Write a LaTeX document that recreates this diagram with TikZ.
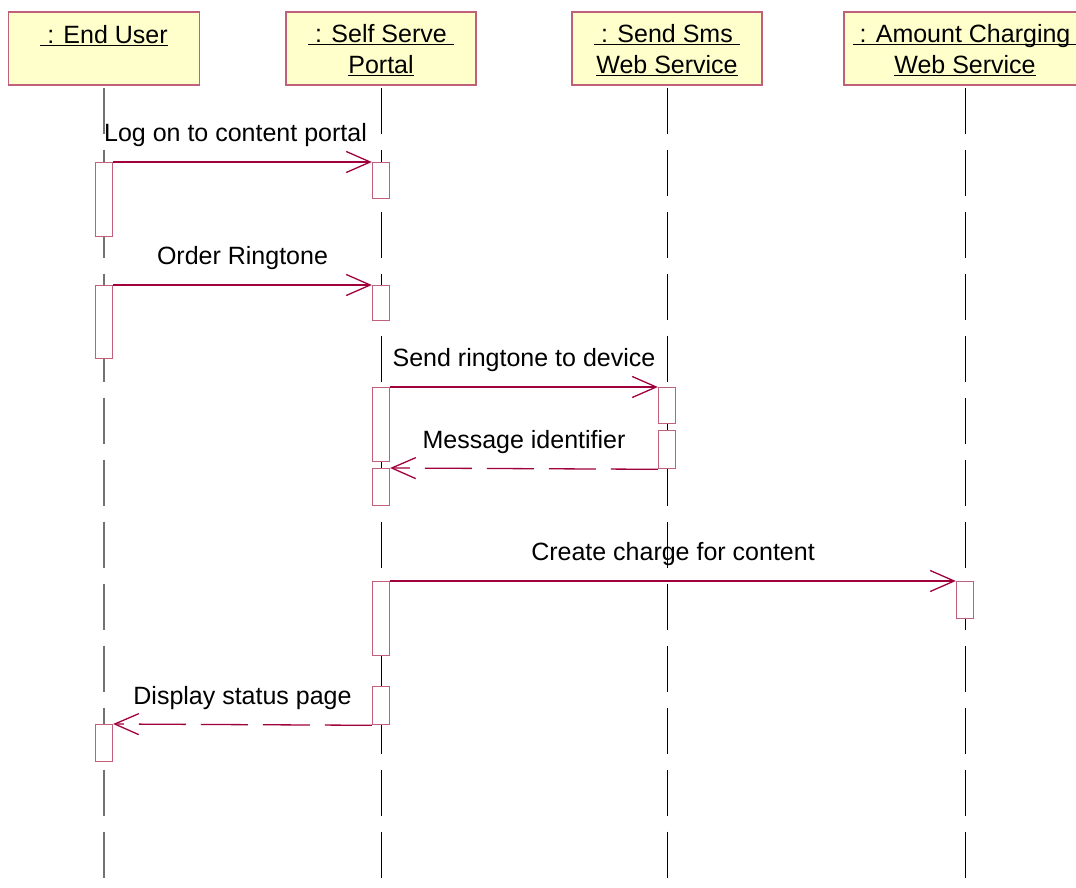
\documentclass[tikz,border=0pt]{standalone}
\usepackage{fontspec}
\setmainfont{Liberation Sans}
\usetikzlibrary{arrows.meta}
\definecolor{objfill}{RGB}{255,255,204}
\definecolor{objline}{RGB}{192,96,122}
\definecolor{msgline}{RGB}{160,0,60}
\newcommand{\ulname}[1]{\underline{\smash{#1}}}

\begin{document}
\begin{tikzpicture}[x=1pt,y=1pt]
\tikzstyle{every node}+=[inner sep=0pt, font=\fontsize{25}{31}\selectfont]
\tikzstyle{object}=[draw=objline, line width=1.3pt, fill=objfill, minimum height=73pt]
\tikzstyle{objname}=[align=center, yshift=-11pt]
\tikzstyle{lifeline}=[black, line width=1pt, dash pattern=on 46pt off 16pt, shorten <=2pt]
\tikzstyle{act}=[draw=objline, line width=1.3pt, fill=white, minimum width=17pt, anchor=north]
\tikzstyle{msg}=[msgline, line width=1.3pt, -{Straight Barb[length=24pt,width=21pt]}]
\tikzstyle{reply}=[msg, dash pattern=on 47pt off 15pt]
\tikzstyle{msglabel}=[black, text depth=0pt, midway, above=20pt]
\useasboundingbox (0,0) rectangle (1076,-888);
\node [object, minimum width=191pt] (user) at (104,-48.5) {};
\node [object, minimum width=190pt] (portal) at (381,-48.5) {};
\node [object, minimum width=190pt] (sms) at (667,-48.5) {};
\node [object, minimum width=242pt] (charge) at (965,-48.5) {};
\node [objname] (user name) at (user.center) {\ulname{\ : End User}\\\mbox{}};
\node [objname] (portal name) at (portal.center) {\ulname{\ : Self Serve\ }\\\ulname{Portal}};
\node [objname] (sms name) at (sms.center) {\ulname{\ : Send Sms\ }\\\ulname{Web Service}};
\node [objname] (charge name) at (charge.center) {\ulname{\ : Amount Charging\ }\\\ulname{Web Service}};
\coordinate (user end) at (104,-888);
\coordinate (portal end) at (381,-888);
\coordinate (sms end) at (667,-888);
\coordinate (charge end) at (965,-888);
\draw [lifeline, black!55, line width=1.4pt] (user.south) -- (user end);
\draw [lifeline] (portal.south) -- (portal end);
\draw [lifeline] (sms.south) -- (sms end);
\draw [lifeline] (charge.south) -- (charge end);
\node [act, minimum height=74pt] (u1) at (104,-162) {};
\node [act, minimum height=73pt] (u2) at (104,-285) {};
\node [act, minimum height=37pt] (u3) at (104,-724) {};
\node [act, minimum height=36pt] (p1) at (381,-162) {};
\node [act, minimum height=35pt] (p2) at (381,-285) {};
\node [act, minimum height=74pt] (p3) at (381,-387) {};
\node [act, minimum height=37pt] (p4) at (381,-468) {};
\node [act, minimum height=74pt] (p5) at (381,-581) {};
\node [act, minimum height=38pt] (p6) at (381,-686) {};
\node [act, minimum height=36pt] (s1) at (667,-387) {};
\node [act, minimum height=38pt] (s2) at (667,-430) {};
\node [act, minimum height=37pt] (c1) at (965,-581) {};
\draw [msg] (u1.north east) -- node [msglabel, xshift=-7pt] {Log on to content portal} (p1.north west);
\draw [msg] (u2.north east) -- node [msglabel] {Order Ringtone} (p2.north west);
\draw [msg] (p3.north east) -- node [msglabel] {Send ringtone to device} (s1.north west);
\draw [reply] (s2.south west) -- node [msglabel] {Message identifier} (p4.north east);
\draw [msg] (p5.north east) -- node [msglabel] {Create charge for content} (c1.north west);
\draw [reply] (p6.south west) -- node [msglabel] {Display status page} (u3.north east);
\end{tikzpicture}
\end{document}
